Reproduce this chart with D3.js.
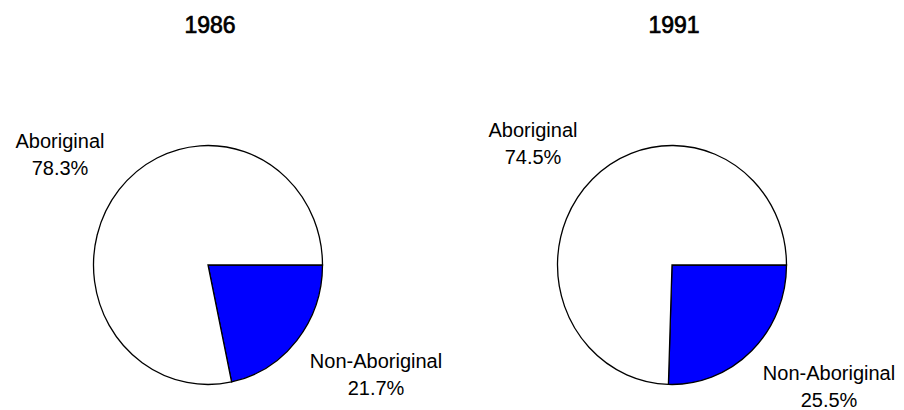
<!DOCTYPE html>
<html>
<head>
<meta charset="utf-8">
<script src="https://cdn.jsdelivr.net/npm/d3@7"></script>
<style>
    body { margin: 0; background: #fff; }
    svg text { font-family: "Liberation Sans", Arial, sans-serif; fill: #000; }
</style>
</head>
<body>
<div id="viz"></div>
<script>
    // data
    let years = ["1986", "1991"];
    let categories = ["Non-Aboriginal", "Aboriginal"];
    let values1986 = [21.7, 78.3];
    let values1991 = [25.5, 74.5];
    let colors = ["#0000ff", "#ffffff"];

    let width = 904,
        height = 410;

    let svg = d3.select("#viz").append("svg")
        .attr("width", width)
        .attr("height", height);

    // where each pie sits
    let cx = d3.scalePoint().domain(years).range([208, 672]);
    let cy = 265,
        rx = 114.5,
        ry = 119.5;

    // label offsets from pie centre, [dx, dy] of first baseline
    let labelOffsets = {
        "1986": { "Aboriginal": [-148, -117], "Non-Aboriginal": [168, 103] },
        "1991": { "Aboriginal": [-139, -128], "Non-Aboriginal": [157, 115] }
    };

    let pie = d3.pie()
        .sort(null)
        .value(function (d) { return d.value; })
        .startAngle(Math.PI / 2)
        .endAngle(Math.PI / 2 + 2 * Math.PI);

    let arc = d3.arc().innerRadius(0).outerRadius(rx);

    let color = d3.scaleOrdinal().domain(categories).range(colors);

    [values1986, values1991].forEach(function (vals, i) {
        let year = years[i];
        let data = categories.map(function (c, j) {
            return { name: c, value: vals[j] };
        });

        let g = svg.append("g")
            .attr("transform", "translate(" + cx(year) + "," + cy + ")");

        g.append("text")
            .attr("x", 2)
            .attr("y", 33 - cy)
            .attr("text-anchor", "middle")
            .style("font-size", "23px")
            .style("stroke", "#000")
            .style("stroke-width", 0.7)
            .text(year);

        g.append("g")
            .attr("transform", "scale(1," + (ry / rx) + ")")
            .selectAll("path")
            .data(pie(data))
            .enter()
            .append("path")
            .attr("d", arc)
            .attr("fill", function (d) { return color(d.data.name); })
            .attr("stroke", "#000")
            .attr("stroke-width", 1.3)
            .attr("vector-effect", "non-scaling-stroke");

        data.forEach(function (d) {
            let off = labelOffsets[year][d.name];
            let t = g.append("text")
                .attr("text-anchor", "middle")
                .style("font-size", "20px");
            t.append("tspan")
                .attr("x", off[0])
                .attr("y", off[1])
                .text(d.name);
            t.append("tspan")
                .attr("x", off[0])
                .attr("y", off[1] + 27)
                .text(d3.format(".1f")(d.value) + "%");
        });
    });
</script>
</body>
</html>
